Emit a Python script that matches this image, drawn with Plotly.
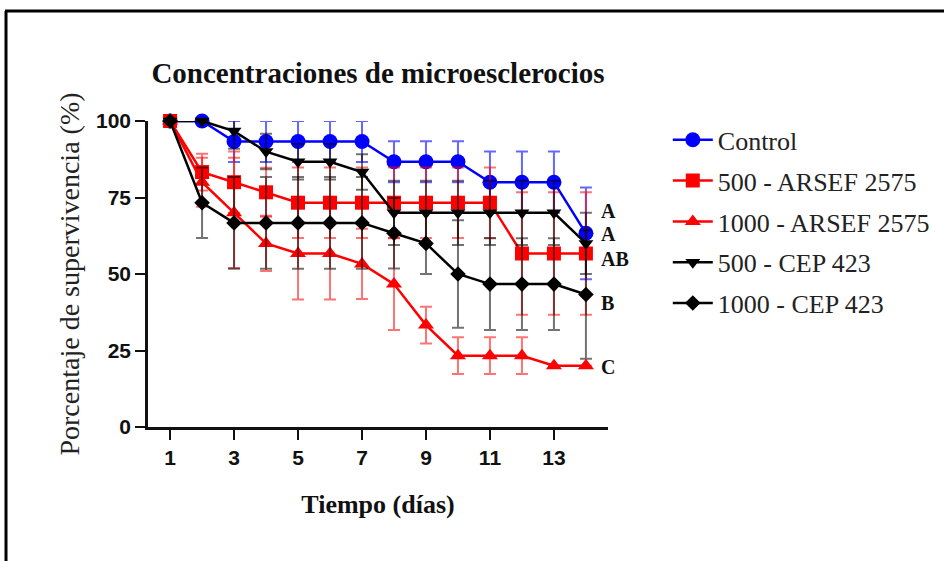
import plotly.graph_objects as go

# Survival over time (days) for each treatment
dias = list(range(1, 15))

control = [100, 100, 93.3, 93.3, 93.3, 93.3, 93.3, 86.7, 86.7, 86.7, 80, 80, 80, 63.3]
control_err = [0, 0, 6.7, 6.7, 6.7, 6.7, 6.7, 6.7, 6.7, 6.7, 10, 10, 10, 15]

arsef_500 = [100, 83.3, 80, 76.7, 73.3, 73.3, 73.3, 73.3, 73.3, 73.3, 73.3, 56.7, 56.7, 56.7]
arsef_500_err = [0, 6, 10, 8, 11.5, 11.5, 11.5, 11.5, 11.5, 11.5, 11.5, 20, 20, 20]

arsef_1000 = [100, 80, 70, 60, 56.7, 56.7, 53.3, 46.7, 33.3, 23.3, 23.3, 23.3, 20, 20]
arsef_1000_err = [0, 8, 18, 9, 15, 15, 11.5, 15, 6, 6, 6, 6, 0, 0]

cep_500 = [100, 100, 96.7, 90, 86.7, 86.7, 83.3, 70, 70, 70, 70, 70, 70, 60]
cep_500_err = [0, 0, 5.8, 5.8, 5.8, 5.8, 5.8, 10.5, 10.5, 10.5, 10.5, 10.5, 10.5, 10]

cep_1000 = [100, 73.3, 66.7, 66.7, 66.7, 66.7, 66.7, 63.3, 60, 50, 46.7, 46.7, 46.7, 43.3]
cep_1000_err = [0, 11.5, 15, 15, 15, 15, 15, 11.5, 10, 17.6, 15, 15, 15, 21]

series_names = ["Control", "500 - ARSEF 2575", "1000 - ARSEF 2575", "500 - CEP 423", "1000 - CEP 423"]

# Statistical group letters at the end of the curves
letras = ["A", "A", "AB", "B", "C"]
letras_y = [70.5, 63, 55, 40.5, 19.5]

x_ticks = [1, 3, 5, 7, 9, 11, 13]
y_ticks = [0, 25, 50, 75, 100]

styles = [
    dict(color="#0000ff", err="rgba(0,0,255,0.6)", symbol="circle", size=15),
    dict(color="#ff0000", err="rgba(255,0,0,0.55)", symbol="square", size=14),
    dict(color="#ff0000", err="rgba(255,0,0,0.55)", symbol="triangle-up", size=14),
    dict(color="#000000", err="rgba(0,0,0,0.55)", symbol="triangle-down", size=13),
    dict(color="#000000", err="rgba(0,0,0,0.55)", symbol="diamond", size=12),
]

values = [control, arsef_500, arsef_1000, cep_500, cep_1000]
errors = [control_err, arsef_500_err, arsef_1000_err, cep_500_err, cep_1000_err]

fig = go.Figure()
for name, ys, es, st in zip(series_names, values, errors, styles):
    fig.add_trace(go.Scatter(
        x=dias, y=ys, name=name, mode="lines+markers",
        legendgroup=name,
        line=dict(color=st["color"], width=2.5),
        marker=dict(color=st["color"], symbol=st["symbol"], size=st["size"]),
        error_y=dict(type="data", array=es, visible=True, color=st["err"],
                     thickness=2, width=6),
        cliponaxis=False,
    ))

serif = "Liberation Serif"
for txt, yv in zip(letras, letras_y):
    fig.add_annotation(x=14.4, y=yv, text="<b>" + txt + "</b>", showarrow=False,
                       xanchor="left", yanchor="middle",
                       font=dict(family=serif, size=20, color="#111"))

fig.update_layout(
    width=944, height=561,
    margin=dict(l=148, r=336, t=121, b=134, autoexpand=False),
    paper_bgcolor="white", plot_bgcolor="white",
    showlegend=True,
    title=dict(text="<b>Concentraciones de microesclerocios</b>", x=0.5, xref="paper",
               xanchor="center", y=1 - 73 / 561, yanchor="middle",
               font=dict(family=serif, size=29, color="#111")),
    legend=dict(x=1.13, xanchor="left", y=1.015, yanchor="top",
                font=dict(family=serif, size=26, color="#222"),
                tracegroupgap=4, traceorder="grouped", itemwidth=40,
                bgcolor="rgba(0,0,0,0)"),
    xaxis=dict(range=[0.31, 14.69], tickvals=x_ticks, ticks="outside", ticklen=10,
               tickwidth=2, tickcolor="#111", showline=True, linewidth=2.5,
               linecolor="#111", showgrid=False, zeroline=False,
               tickfont=dict(family="Liberation Sans", size=21, color="#111", weight="bold"),
               title=dict(text="<b>Tiempo (días)</b>", standoff=27,
                          font=dict(family=serif, size=26, color="#111"))),
    yaxis=dict(range=[0, 100], tickvals=y_ticks, ticks="outside", ticklen=10,
               tickwidth=2, tickcolor="#111", showline=True, linewidth=2.5,
               linecolor="#111", showgrid=False, zeroline=False,
               tickfont=dict(family="Liberation Sans", size=21, color="#111", weight="bold"),
               title=dict(text="Porcentaje de supervivencia (%)", standoff=9,
                          font=dict(family=serif, size=28, color="#222"))),
)

# Frame lines along the top and left edges of the figure
px = lambda v: (v - 148) / 460
py = lambda v: (427 - v) / 306
fig.add_shape(type="line", xref="paper", yref="paper", x0=px(5), x1=px(944),
              y0=py(11), y1=py(11), line=dict(color="black", width=3))
fig.add_shape(type="line", xref="paper", yref="paper", x0=px(6), x1=px(6),
              y0=py(11), y1=py(561), line=dict(color="black", width=3))

fig.write_html("out.html")
